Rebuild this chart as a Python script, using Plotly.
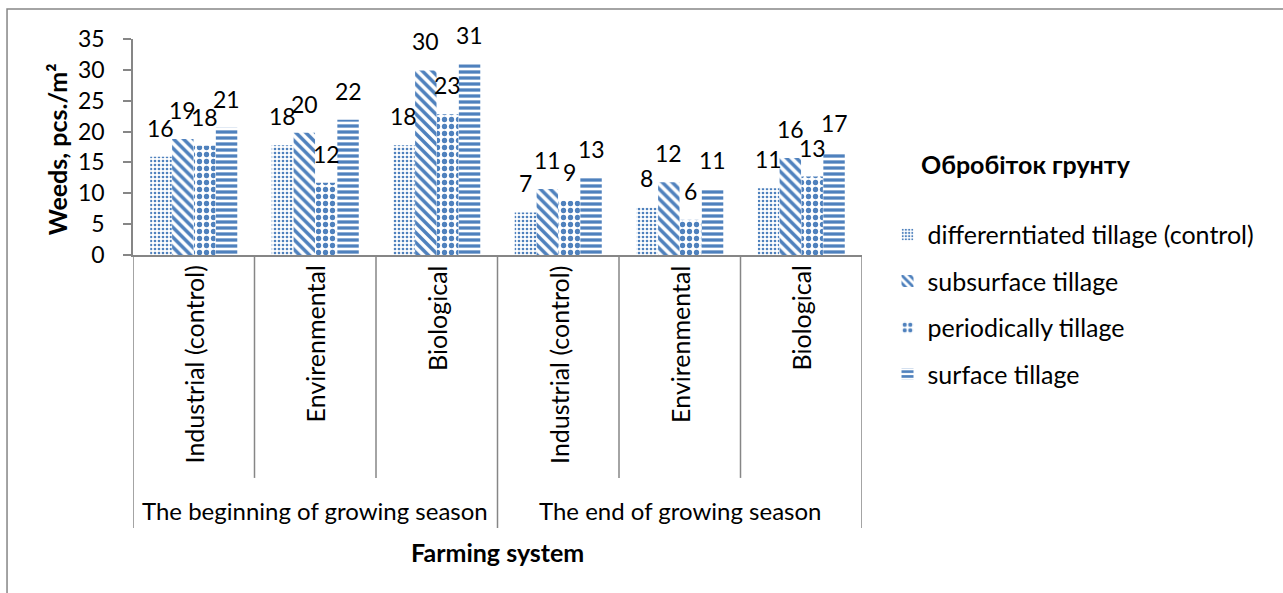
import plotly.graph_objects as go

seasons = ["The beginning of growing season", "The end of growing season"]
systems = ["Industrial (control)", "Envirenmental", "Biological"]
series_names = ["differerntiated tillage (control)", "subsurface tillage",
                "periodically tillage", "surface tillage"]
differentiated = [15.9, 17.8, 17.8, 6.9, 7.7, 10.8]
subsurface = [18.8, 19.8, 29.9, 10.7, 11.8, 15.7]
periodically = [17.7, 11.7, 22.8, 8.8, 5.7, 12.7]
surface = [20.6, 21.9, 30.9, 12.5, 10.7, 16.7]
labels = [
    [16, 18, 18, 7, 8, 11],
    [19, 20, 30, 11, 12, 16],
    [18, 12, 23, 9, 6, 13],
    [21, 22, 31, 13, 11, 17],
]
y_ticks = [0, 5, 10, 15, 20, 25, 30, 35]

FONT = "Lato"
BLUE = "#4F81BD"
GRAY = "#868686"
values = [differentiated, subsurface, periodically, surface]
patterns = [
    dict(shape=".", size=4, solidity=0.35),
    dict(shape="\\", size=7, solidity=0.5),
    dict(shape=".", size=7, solidity=0.45),
    dict(shape="-", size=6, solidity=0.55),
]

cats = [f"{s}|{c}" for s in seasons for c in systems]
xpos = list(range(len(cats)))
BARGAP = 0.28
bw = (1 - BARGAP) / len(values)

fig = go.Figure()
for k, (name, vals, pat) in enumerate(zip(series_names, values, patterns)):
    fig.add_trace(go.Bar(
        x=xpos, y=vals, name=name, legendgroup=name,
        marker=dict(color="white", line=dict(width=0),
                    pattern=dict(fgcolor=BLUE, bgcolor="white", fillmode="replace", **pat)),
    ))

annotations = []
# data labels
for k, vals in enumerate(values):
    for i, v in enumerate(vals):
        annotations.append(dict(
            x=i + (k - 1.5) * bw, y=v, xref="x", yref="y", text=str(labels[k][i]),
            showarrow=False, yanchor="bottom", xanchor="center", yshift=13,
            font=dict(family=FONT, size=23, color="black")))

# inner category labels
for i, c in enumerate(cats):
    annotations.append(dict(
        x=i, y=-0.04, xref="x", yref="paper", text=c.split("|")[1], textangle=-90,
        showarrow=False, yanchor="top", xanchor="center",
        font=dict(family=FONT, size=25, color="black")))
# outer labels
for j, s in enumerate(seasons):
    annotations.append(dict(
        x=j * 3 + 1, y=-1.185, xref="x", yref="paper", text=s, showarrow=False,
        yanchor="middle", xanchor="center", font=dict(family=FONT, size=24, color="black")))

annotations.append(dict(x=0.5, y=-1.375, xref="paper", yref="paper", text="<b>Farming system</b>",
                        showarrow=False, yanchor="middle", xanchor="center",
                        font=dict(family=FONT, size=25, color="black")))
annotations.append(dict(x=-0.104, y=0.49, xref="paper", yref="paper", text="<b>Weeds, pcs./m²</b>",
                        textangle=-90, showarrow=False, yanchor="middle", xanchor="center",
                        font=dict(family=FONT, size=25, color="black")))
annotations.append(dict(x=1.225, y=0.421, xref="paper", yref="paper", text="<b>Обробіток грунту</b>",
                        showarrow=False, yanchor="middle", xanchor="center",
                        font=dict(family=FONT, size=25, color="black")))

shapes = []
for b in range(len(cats) + 1):
    xb = b - 0.5
    outer = b % 3 == 0
    shapes.append(dict(type="line", xref="x", yref="paper", x0=xb, x1=xb, y0=0,
                       y1=-1.264 if outer else -1.032, line=dict(color=GRAY, width=1.5)))
shapes.append(dict(type="rect", xref="paper", yref="paper", x0=-0.1728, x1=1.6, y0=-1.7, y1=1.139,
                   line=dict(color=GRAY, width=1.5), layer="below"))

fig.update_layout(
    width=1283, height=593,
    margin=dict(l=133, r=421, t=39, b=338),
    paper_bgcolor="white", plot_bgcolor="white",
    barmode="group", bargap=BARGAP, bargroupgap=0.02,
    font=dict(family=FONT, size=25, color="black"),
    showlegend=True,
    legend=dict(x=1.035, y=0.2, xanchor="left", yanchor="top",
                font=dict(family=FONT, size=25, color="black"),
                tracegroupgap=11, itemwidth=30, bgcolor="rgba(0,0,0,0)"),
    annotations=annotations, shapes=shapes,
    xaxis=dict(range=[-0.5, len(cats) - 0.5], showticklabels=False, ticks="",
               showline=True, linecolor=GRAY, linewidth=1.5, showgrid=False, zeroline=False,
               fixedrange=True),
    yaxis=dict(range=[0, 35], tickvals=y_ticks, ticks="outside", ticklen=8, tickcolor=GRAY,
               tickwidth=1.5, showline=True, linecolor=GRAY, linewidth=1.5, showgrid=False,
               zeroline=False, tickfont=dict(family=FONT, size=23, color="black"),
               ticklabelstandoff=14, fixedrange=True),
)

fig.write_html("out.html", config={"displayModeBar": False},
               post_script="document.body.style.margin='0';document.body.style.padding='0';")
